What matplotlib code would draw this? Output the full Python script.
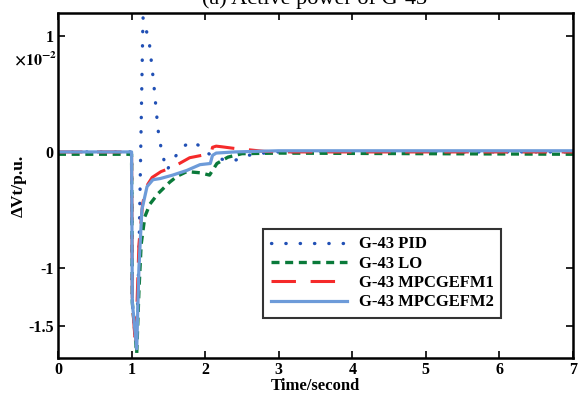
import matplotlib
matplotlib.use("Agg")
import matplotlib.pyplot as plt

# values in units of 1e-2 p.u.
t_pid = [0, 1.0, 1.01, 1.065, 1.10, 1.155, 1.20, 1.24, 1.30, 1.36, 1.41, 1.48, 1.55, 1.64, 1.71,
         1.82, 1.93, 2.03, 2.2, 2.38, 2.53, 2.65, 2.8, 3.0, 7.0]
v_pid = [0, 0, -1.3, -1.70, -0.9, 1.16, 1.05, 0.95, 0.6, 0.19, 0.0, -0.16, -0.08, 0.0, 0.05,
         0.09, 0.05, -0.01, -0.06, -0.08, -0.04, -0.02, -0.01, 0.0, 0.0]

t_lo = [0, 1.0, 1.01, 1.07, 1.10, 1.13, 1.18, 1.25, 1.36, 1.52, 1.62, 1.75, 1.93, 2.06,
        2.16, 2.31, 2.5, 3.0, 7.0]
v_lo = [-0.02, -0.02, -1.3, -1.74, -1.2, -0.8, -0.56, -0.45, -0.36, -0.26, -0.21, -0.17,
        -0.18, -0.2, -0.1, -0.045, -0.015, -0.01, -0.02]

t_m1 = [0, 1.0, 1.01, 1.055, 1.10, 1.15, 1.20, 1.28, 1.40, 1.52, 1.65, 1.79, 1.95, 2.08,
        2.10, 2.15, 2.22, 2.4, 2.57, 2.8, 3.0, 7.0]
v_m1 = [0, 0, -1.3, -1.68, -0.8, -0.45, -0.3, -0.22, -0.17, -0.14, -0.1, -0.05, -0.03,
        -0.02, 0.04, 0.05, 0.045, 0.03, 0.02, 0.005, 0.0, 0.0]

t_m2 = [0, 1.0, 1.01, 1.07, 1.10, 1.14, 1.21, 1.29, 1.39, 1.56, 1.75, 1.93, 2.07, 2.10,
        2.15, 2.4, 3.0, 7.0]
v_m2 = [0, 0, -1.3, -1.70, -1.0, -0.5, -0.3, -0.24, -0.23, -0.2, -0.16, -0.11, -0.1,
        -0.03, -0.01, 0.0, 0.01, 0.01]

labels = ["G-43 PID", "G-43 LO", "G-43 MPCGEFM1", "G-43 MPCGEFM2"]
xticks = [0, 1, 2, 3, 4, 5, 6, 7]
yticks = [-1.5, -1, 0, 1]
yticklabels = ['-1.5', '-1', '0', '1']

plt.rcParams['font.family'] = ['Liberation Serif', 'DejaVu Serif']
plt.rcParams['font.weight'] = 'bold'
plt.rcParams['mathtext.fontset'] = 'stix'

W, H = 580, 394
fig = plt.figure(figsize=(W / 100, H / 100), dpi=100)
ax = fig.add_axes([58 / W, 1 - 358 / H, 515 / W, 345 / H])

ax.plot(t_pid, v_pid, color='#2150b5', lw=2.4, ls=(0, (0.1, 4.2)), dash_capstyle='round',
        label=labels[0])
ax.plot(t_lo, v_lo, color='#0a7a3a', lw=2.4, ls=(0, (2.4, 1.7)), label=labels[1])
ax.plot(t_m1, v_m1, color='#f52a2a', lw=2.2, ls=(0, (8, 4.8)), label=labels[2])
ax.plot(t_m2, v_m2, color='#6d9bd9', lw=2.3, label=labels[3])

ax.set_xlim(0, 7)
ax.set_ylim(-1.78, 1.2)
ax.set_xticks(xticks)
ax.set_yticks(yticks)
ax.set_yticklabels(yticklabels)
ax.tick_params(direction='in', top=True, right=True, length=5, width=1.2,
               labelsize=11.5, pad=3)
for s in ax.spines.values():
    s.set_linewidth(1.8)

ax.set_xlabel("Time/second", fontsize=12, fontweight='bold', labelpad=0)
ax.set_ylabel("ΔVt/p.u.", fontsize=12.5, fontweight='bold', labelpad=1)

fig.text(14 / W, 1 - 60 / H, r"$\times10^{-2}$", fontsize=11.5, va='center')
fig.text(315 / W, 1 - 4 / H, "(a) Active power of G-43", fontsize=16, fontweight='normal',
         ha='center', va='baseline')

leg = ax.legend(loc='upper left', bbox_to_anchor=(263 / W, 1 - 229 / H),
                bbox_transform=fig.transFigure, borderaxespad=0,
                frameon=True, fancybox=False, edgecolor='black', fontsize=12,
                handlelength=4.6, labelspacing=0.2, borderpad=0.45, handletextpad=0.7)
leg.get_frame().set_linewidth(1.5)

fig.savefig("out.png", dpi=100)
